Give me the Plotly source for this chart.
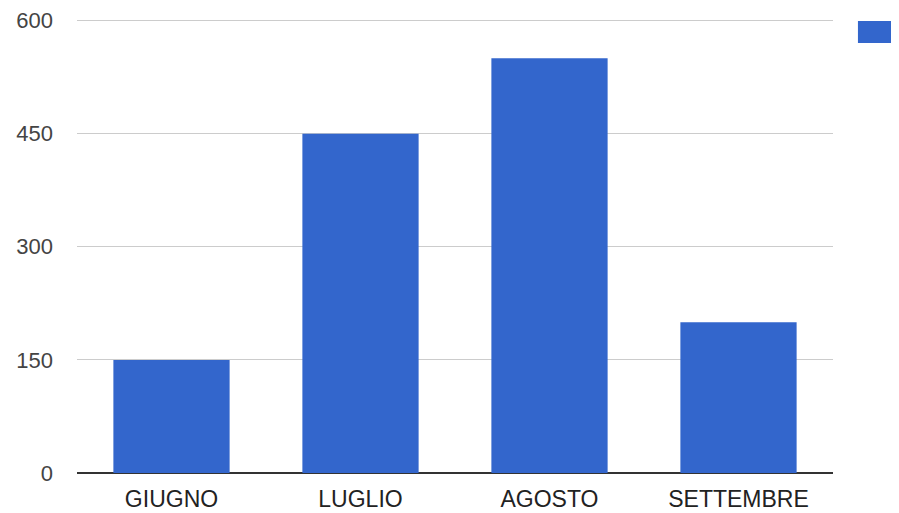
import plotly.graph_objects as go

categories = ["GIUGNO", "LUGLIO", "AGOSTO", "SETTEMBRE"]
values = [150, 450, 550, 200]
y_ticks = [0, 150, 300, 450, 600]

BLUE = "#3366cc"

fig = go.Figure(
    go.Bar(x=categories, y=values, marker=dict(color=BLUE, line=dict(width=0)),
           width=0.615, showlegend=False)
)

# page body has an 8px default margin, so the figure is sized/offset to compensate
fig.update_layout(
    width=891, height=505,
    margin=dict(l=69, r=66, t=11, b=40, autoexpand=False),
    paper_bgcolor="white", plot_bgcolor="white",
    font=dict(family="Liberation Sans, Arial, sans-serif", size=22, color="#444444"),
    xaxis=dict(showgrid=False, ticks="", showline=False, zeroline=False,
               automargin=False, ticklabelstandoff=10,
               tickfont=dict(size=23, color="#222222")),
    yaxis=dict(range=[0, 602], tickvals=y_ticks, showgrid=True, gridcolor="#cccccc",
               gridwidth=1, zeroline=True, zerolinecolor="#333333", zerolinewidth=1.5,
               showline=False, ticks="", ticklabelstandoff=23, automargin=False,
               tickfont=dict(size=22, color="#444444")),
    bargap=0.385,
    shapes=[dict(type="rect", xref="paper", yref="paper",
                 x0=1.033, x1=1.12, y0=0.947, y1=0.9956,
                 fillcolor=BLUE, line=dict(width=0))],
)

fig.write_html("out.html")
